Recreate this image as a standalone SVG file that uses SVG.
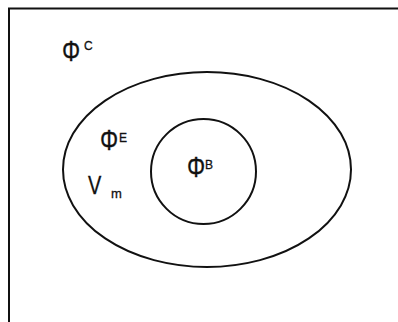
<svg xmlns="http://www.w3.org/2000/svg" width="398" height="322" viewBox="0 0 398 322">
<style>
.ln{fill:none;stroke:#111;stroke-width:2}
.t{font-family:"Liberation Sans",Arial,sans-serif;fill:#111;stroke:#111;stroke-width:0.3}
.big{font-size:30px}
.sm{font-size:12px}
</style>
<rect width="398" height="322" fill="#fff"/>
<g id="frame"><path class="ln" d="M9,322 V8.5 H398"/></g>
<g id="outer"><ellipse class="ln" cx="207" cy="169.5" rx="144" ry="97.5"/></g>
<g id="inner"><circle class="ln" cx="203.5" cy="171.5" r="52.5"/></g>
<g id="labels">
<text class="t big" transform="translate(62,61) scale(0.76,1)">Φ</text>
<text class="t sm" x="84" y="50">C</text>
<text class="t big" transform="translate(100,150) scale(0.76,1)">Φ</text>
<text class="t sm" x="119" y="142">E</text>
<text class="t big" transform="translate(187,177) scale(0.76,1)">Φ</text>
<text class="t sm" x="205" y="169">B</text>
<text class="t" font-size="25" transform="translate(88,194) scale(0.8,1)">V</text>
<text class="t" font-size="13" x="111" y="197.5">m</text>
</g>
</svg>
